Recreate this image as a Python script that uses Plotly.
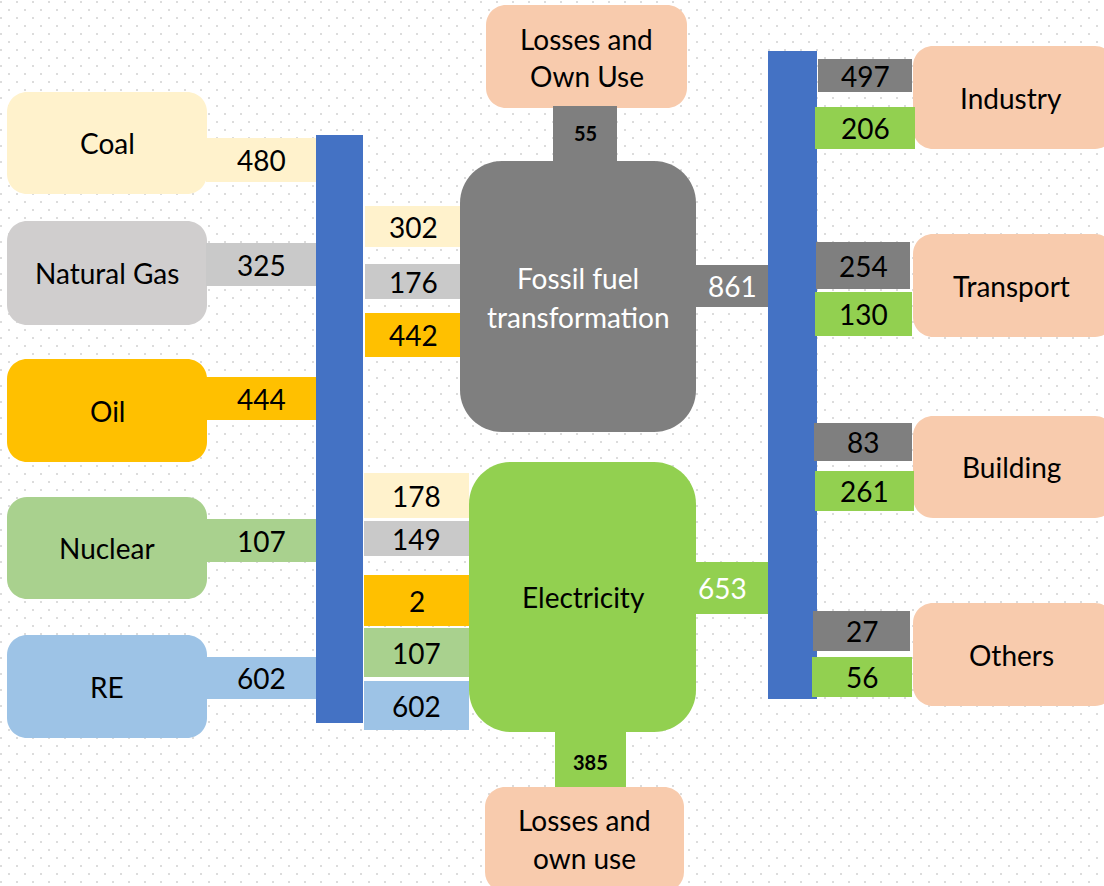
import base64
import plotly.graph_objects as go

# ---------------- data ----------------
sources = ["Coal", "Natural Gas", "Oil", "Nuclear", "RE"]
source_supply = [480, 325, 444, 107, 602]
to_fossil = [302, 176, 442]            # coal, natural gas, oil
to_electricity = [178, 149, 2, 107, 602]  # coal, gas, oil, nuclear, RE
fossil_losses = 55
elec_losses = 385
fossil_output = 861
elec_output = 653
sectors = ["Industry", "Transport", "Building", "Others"]
sector_fossil = [497, 254, 83, 27]
sector_elec = [206, 130, 261, 56]
fossil_label = ["Fossil fuel", "transformation"]
elec_label = "Electricity"
loss_top_label = ["Losses and", "Own Use"]
loss_bottom_label = ["Losses and", "own use"]

# ---------------- styles ----------------
W, H = 1104, 886
CREAM, GASBOX, GAS, OIL, NUC, RE = "#FFF2CC", "#D0CECE", "#C9C9C9", "#FFC000", "#A9D18E", "#9DC3E6"
BLUE, DGRAY, GREEN, PEACH = "#4472C4", "#7F7F7F", "#92D050", "#F8CBAD"
FONT = "Lato, 'Open Sans', sans-serif"
FS = 28

source_box_color = [CREAM, GASBOX, OIL, NUC, RE]
source_conn_color = [CREAM, GAS, OIL, NUC, RE]
fossil_conn_color = [CREAM, GAS, OIL]
elec_conn_color = [CREAM, GAS, OIL, NUC, RE]

# ---------------- geometry (pixels) ----------------
src_box_y = [(92, 194), (221, 325), (359, 462), (497, 599), (635, 738)]
src_conn_y = [(138, 182), (243, 286), (377, 420), (519, 562), (657, 699)]
src_box_x = (7, 207)
src_conn_x = (207, 316)
left_bus = (316, 363, 135, 723)
fos_conn_x = (365, 461)
fos_conn_y = [(206, 247), (264, 299), (313, 357)]
ele_conn_x = (364, 469)
ele_conn_y = [(473, 518), (521, 556), (575, 626), (628, 677), (681, 730)]
fossil_box = (460, 161, 696, 432)
elec_box = (469, 462, 696, 732)
top_stem = (553, 106, 617, 162)
bot_stem = (555, 731, 626, 788)
top_loss_box = (486, 5, 687, 108)
bot_loss_box = (485, 787, 684, 892)
fos_out_conn = (695, 265, 769, 307)
ele_out_conn = (695, 562, 769, 614)
right_bus = (768, 817, 51, 699)
sec_box_y = [(46, 149), (234, 337), (416, 518), (603, 706)]
sec_box_x = (913, 1115)
sec_gray = [(818, 912, 59, 92), (816, 910, 242, 289), (814, 912, 423, 461), (813, 910, 611, 651)]
sec_green = [(815, 915, 107, 149), (815, 912, 292, 336), (815, 914, 471, 511), (812, 912, 657, 697)]
sec_text_x = 1011


def rrect(x0, y0, x1, y1, r):
    k = 0.5523 * r
    return (f"M {x0+r},{y0} L {x1-r},{y0} C {x1-r+k},{y0} {x1},{y0+r-k} {x1},{y0+r} "
            f"L {x1},{y1-r} C {x1},{y1-r+k} {x1-r+k},{y1} {x1-r},{y1} "
            f"L {x0+r},{y1} C {x0+r-k},{y1} {x0},{y1-r+k} {x0},{y1-r} "
            f"L {x0},{y0+r} C {x0},{y0+r-k} {x0+r-k},{y0} {x0+r},{y0} Z")


shapes = []
ann = []


def rect(x0, y0, x1, y1, color):
    shapes.append(dict(type="rect", xref="x", yref="y", x0=x0, x1=x1, y0=y0, y1=y1,
                       fillcolor=color, line=dict(width=0), layer="above"))


def rbox(x0, y0, x1, y1, r, color):
    shapes.append(dict(type="path", xref="x", yref="y", path=rrect(x0, y0, x1, y1, r),
                       fillcolor=color, line=dict(width=0), layer="above"))


def text(x, y, s, color="black", size=FS, bold=False):
    if bold:
        s = f"<b>{s}</b>"
    ann.append(dict(x=x, y=y, xref="x", yref="y", text=s, showarrow=False,
                    xanchor="center", yanchor="middle",
                    font=dict(family=FONT, size=size, color=color)))


# sources
for i, name in enumerate(sources):
    y0, y1 = src_box_y[i]
    cy0, cy1 = src_conn_y[i]
    rbox(src_box_x[0], y0, src_box_x[1], y1, 20, source_box_color[i])
    rect(src_conn_x[0] - 1, cy0, src_conn_x[1], cy1, source_conn_color[i])
    text((src_box_x[0] + src_box_x[1]) / 2, (y0 + y1) / 2, name)
    text((src_conn_x[0] + src_conn_x[1]) / 2, (cy0 + cy1) / 2, str(source_supply[i]))

# left bus
rect(left_bus[0], left_bus[2], left_bus[1], left_bus[3], BLUE)

# fossil inputs
for i, v in enumerate(to_fossil):
    y0, y1 = fos_conn_y[i]
    rect(fos_conn_x[0], y0, fos_conn_x[1], y1, fossil_conn_color[i])
    text((fos_conn_x[0] + fos_conn_x[1]) / 2, (y0 + y1) / 2, str(v))

# electricity inputs
for i, v in enumerate(to_electricity):
    y0, y1 = ele_conn_y[i]
    rect(ele_conn_x[0], y0, ele_conn_x[1], y1, elec_conn_color[i])
    text((ele_conn_x[0] + ele_conn_x[1]) / 2, (y0 + y1) / 2, str(v))

# losses boxes and stems
rbox(*top_loss_box, 20, PEACH)
rect(*top_stem, DGRAY)
rect(*bot_stem, GREEN)
rbox(*bot_loss_box, 20, PEACH)

# transformation boxes
rbox(*fossil_box, 42, DGRAY)
rbox(*elec_box, 42, GREEN)
rect(*fos_out_conn, DGRAY)
rect(*ele_out_conn, GREEN)

cx = (fossil_box[0] + fossil_box[2]) / 2
cy = (fossil_box[1] + fossil_box[3]) / 2
text(cx, cy - 19, fossil_label[0], color="white")
text(cx, cy + 20, fossil_label[1], color="white")
text((elec_box[0] + elec_box[2]) / 2 + 1, (elec_box[1] + elec_box[3]) / 2, elec_label)

tx = (top_loss_box[0] + top_loss_box[2]) / 2
ty = (top_loss_box[1] + top_loss_box[3]) / 2
text(tx, ty - 18, loss_top_label[0])
text(tx, ty + 19, loss_top_label[1])
bx = (bot_loss_box[0] + bot_loss_box[2]) / 2
text(bx, 820, loss_bottom_label[0])
text(bx, 858, loss_bottom_label[1])

text((top_stem[0] + top_stem[2]) / 2, (top_stem[1] + top_stem[3]) / 2 - 1, str(fossil_losses), size=20, bold=True)
text((bot_stem[0] + bot_stem[2]) / 2, (bot_stem[1] + bot_stem[3]) / 2 + 2, str(elec_losses), size=20, bold=True)
text((fos_out_conn[0] + fos_out_conn[2]) / 2, (fos_out_conn[1] + fos_out_conn[3]) / 2, str(fossil_output), color="white")
text((ele_out_conn[0] + ele_out_conn[2]) / 2 - 10, (ele_out_conn[1] + ele_out_conn[3]) / 2, str(elec_output), color="white")

# right bus
rect(right_bus[0], right_bus[2], right_bus[1], right_bus[3], BLUE)

# sectors
for i, name in enumerate(sectors):
    y0, y1 = sec_box_y[i]
    rbox(sec_box_x[0], y0, sec_box_x[1], y1, 20, PEACH)
    gx0, gx1, gy0, gy1 = sec_gray[i]
    rect(gx0, gy0, gx1, gy1, DGRAY)
    text((gx0 + gx1) / 2, (gy0 + gy1) / 2, str(sector_fossil[i]))
    ex0, ex1, ey0, ey1 = sec_green[i]
    rect(ex0, ey0, ex1, ey1, GREEN)
    text((ex0 + ex1) / 2, (ey0 + ey1) / 2, str(sector_elec[i]))
    text(sec_text_x, (y0 + y1) / 2, name)

# dotted background (staggered lattice) as an SVG pattern
svg = (f'<svg xmlns="http://www.w3.org/2000/svg" width="{W}" height="{H}" shape-rendering="crispEdges">'
       '<defs><pattern id="p" x="0" y="1" width="16" height="16" patternUnits="userSpaceOnUse">'
       '<rect x="0" y="0" width="2" height="2" fill="#dcdcdc"/>'
       '<rect x="8" y="8" width="2" height="2" fill="#dcdcdc"/></pattern></defs>'
       f'<rect width="{W}" height="{H}" fill="url(#p)"/></svg>')
bg_src = "data:image/svg+xml;base64," + base64.b64encode(svg.encode()).decode()

fig = go.Figure()
fig.update_layout(
    width=W, height=H, autosize=False,
    margin=dict(l=0, r=0, t=0, b=0),
    paper_bgcolor="white", plot_bgcolor="white",
    xaxis=dict(range=[0, W], visible=False, fixedrange=True),
    yaxis=dict(range=[H, 0], visible=False, fixedrange=True),
    shapes=shapes, annotations=ann,
    images=[dict(source=bg_src, xref="paper", yref="paper", x=0, y=1, sizex=1, sizey=1,
                 sizing="stretch", layer="below", xanchor="left", yanchor="top")],
    showlegend=False,
)
fig.write_html(
    "out.html",
    config=dict(displayModeBar=False),
    post_script="document.body.style.margin='0';document.body.style.overflow='hidden';",
)
